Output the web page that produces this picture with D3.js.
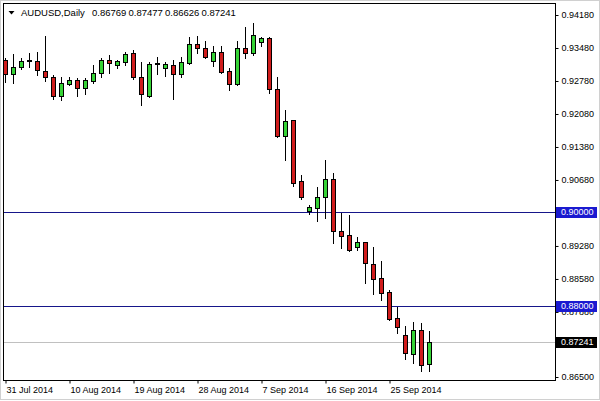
<!DOCTYPE html>
<html>
<head>
<meta charset="utf-8">
<script src="https://cdn.jsdelivr.net/npm/d3@7"></script>
<style>
    body { margin: 0; background: #fff; }
    svg { display: block; font-family: "Liberation Sans", Arial, sans-serif; }
</style>
</head>
<body>
<div class="module-graph"></div>
<script>
"use strict"

const symbol = "AUDUSD,Daily";

const dates = ["2014-07-31", "2014-08-01", "2014-08-03", "2014-08-04", "2014-08-05", "2014-08-06",
    "2014-08-07", "2014-08-08", "2014-08-10", "2014-08-11", "2014-08-12", "2014-08-13", "2014-08-14",
    "2014-08-15", "2014-08-17", "2014-08-18", "2014-08-19", "2014-08-20", "2014-08-21", "2014-08-22",
    "2014-08-24", "2014-08-25", "2014-08-26", "2014-08-27", "2014-08-28", "2014-08-29", "2014-08-31",
    "2014-09-01", "2014-09-02", "2014-09-03", "2014-09-04", "2014-09-05", "2014-09-07", "2014-09-08",
    "2014-09-09", "2014-09-10", "2014-09-11", "2014-09-12", "2014-09-14", "2014-09-15", "2014-09-16",
    "2014-09-17", "2014-09-18", "2014-09-19", "2014-09-21", "2014-09-22", "2014-09-23", "2014-09-24",
    "2014-09-25", "2014-09-26", "2014-09-28", "2014-09-29", "2014-09-30", "2014-10-01"];

const open = [0.93226, 0.92929, 0.93071, 0.93211, 0.93211, 0.92999, 0.92859, 0.92462, 0.92717, 0.92801,
    0.92625, 0.92787, 0.92944, 0.93226, 0.93120, 0.93190, 0.93368, 0.92859, 0.92468, 0.93156,
    0.93050, 0.93120, 0.92929, 0.93168, 0.93565, 0.93474, 0.93211, 0.93402, 0.92992, 0.92710,
    0.93474, 0.93368, 0.93601, 0.93686, 0.92604, 0.91620, 0.91953, 0.90659, 0.90023, 0.90093,
    0.90313, 0.90695, 0.89605, 0.89514, 0.89266, 0.89359, 0.88892, 0.88595, 0.88299, 0.87747,
    0.87393, 0.86990, 0.87499, 0.86769];
const high = [0.93268, 0.93346, 0.93274, 0.93368, 0.93402, 0.93741, 0.92907, 0.92871, 0.92871, 0.92837,
    0.92850, 0.93120, 0.93262, 0.93332, 0.93226, 0.93402, 0.93438, 0.93190, 0.93190, 0.93296,
    0.93190, 0.93226, 0.93296, 0.93707, 0.93735, 0.93629, 0.93523, 0.93523, 0.93050, 0.93629,
    0.93932, 0.94004, 0.93720, 0.93707, 0.92859, 0.92165, 0.91960, 0.90786, 0.90150, 0.90538,
    0.91105, 0.90822, 0.89987, 0.89938, 0.89478, 0.89372, 0.89253, 0.88962, 0.88347, 0.87993,
    0.87584, 0.87662, 0.87641, 0.87477];
const low = [0.92765, 0.92731, 0.93035, 0.93071, 0.92907, 0.92787, 0.92392, 0.92377, 0.92695, 0.92462,
    0.92504, 0.92744, 0.92871, 0.92956, 0.93050, 0.93120, 0.92816, 0.92271, 0.92434, 0.92929,
    0.92893, 0.92392, 0.92859, 0.93134, 0.93380, 0.93274, 0.93105, 0.92944, 0.92589, 0.92695,
    0.93274, 0.93332, 0.93529, 0.92519, 0.91599, 0.91105, 0.90560, 0.90277, 0.89959, 0.89817,
    0.89868, 0.89350, 0.89244, 0.89181, 0.89196, 0.88502, 0.88262, 0.88135, 0.87711, 0.87442,
    0.86884, 0.86805, 0.86636, 0.86626];
const close = [0.92929, 0.93071, 0.93211, 0.93215, 0.93013, 0.92859, 0.92462, 0.92731, 0.92801, 0.92625,
    0.92801, 0.92944, 0.93226, 0.93156, 0.93211, 0.93353, 0.92859, 0.92504, 0.93141, 0.93151,
    0.93141, 0.92922, 0.93177, 0.93565, 0.93474, 0.93296, 0.93389, 0.92965, 0.92710, 0.93474,
    0.93380, 0.93756, 0.93686, 0.92604, 0.91620, 0.91932, 0.90623, 0.90326, 0.90101, 0.90313,
    0.90695, 0.89605, 0.89499, 0.89196, 0.89359, 0.88914, 0.88587, 0.88290, 0.87732, 0.87569,
    0.87005, 0.87499, 0.86760, 0.87241];

// 0.89980 and 0.87180 sit under the price boxes: tick only, no label
const yTicks = [0.94180, 0.93480, 0.92780, 0.92080, 0.91380, 0.90680, 0.89980, 0.89280,
    0.88580, 0.87880, 0.87180, 0.86500];
const hiddenLabels = [0.89980, 0.87180];
const xTicks = ["2014-07-31", "2014-08-10", "2014-08-19", "2014-08-28", "2014-09-07",
    "2014-09-16", "2014-09-25"];
const levels = [0.90000, 0.88000];
const lastPrice = 0.87241;

let width = 600,
    height = 401;
const frameLeft = 3.5, frameTop = 3.5, frameRight = 555.5, frameBottom = 380.5;

const svg = d3.select("div.module-graph").append("svg")
    .attr("width", width)
    .attr("height", height);

// outer border
svg.append("rect")
    .attr("x", 0.5).attr("y", 0.5)
    .attr("width", width - 1).attr("height", height - 2)
    .attr("fill", "#fff")
    .attr("stroke", "#d0d0d0");

const x = d3.scalePoint()
    .domain(dates)
    .range([5, 5 + 8 * (dates.length - 1)]);

const y = d3.scaleLinear()
    .domain([0.86500, 0.94180])
    .range([377, 15]);

// horizontal levels
svg.selectAll("line.level")
    .data(levels)
    .enter().append("line")
    .attr("class", "level")
    .attr("x1", frameLeft).attr("x2", frameRight)
    .attr("y1", d => Math.round(y(d)) + 0.5)
    .attr("y2", d => Math.round(y(d)) + 0.5)
    .attr("stroke", "#16168a");

svg.append("line")
    .attr("x1", frameLeft).attr("x2", frameRight)
    .attr("y1", Math.round(y(lastPrice)) + 0.5)
    .attr("y2", Math.round(y(lastPrice)) + 0.5)
    .attr("stroke", "#c0c0c0");

// candles
const candles = dates.map((d, i) => ({d: d, o: open[i], h: high[i], l: low[i], c: close[i]}));

const g = svg.append("g").attr("class", "candles");

g.selectAll("line.wick")
    .data(candles)
    .enter().append("line")
    .attr("class", "wick")
    .attr("x1", d => x(d.d) + 0.5).attr("x2", d => x(d.d) + 0.5)
    .attr("y1", d => Math.round(y(d.h)))
    .attr("y2", d => Math.round(y(d.l)) + 1)
    .attr("stroke", "#000");

g.selectAll("rect.body")
    .data(candles)
    .enter().append("rect")
    .attr("class", "body")
    .attr("x", d => x(d.d) - 1.5)
    .attr("y", d => Math.round(y(Math.max(d.o, d.c))) + 0.5)
    .attr("width", 4)
    .attr("height", d => Math.max(0, Math.round(y(Math.min(d.o, d.c))) - Math.round(y(Math.max(d.o, d.c)))))
    .attr("fill", d => d.c >= d.o ? "#36d336" : "#d01c1c")
    .attr("stroke", "#000");

// frame
svg.append("rect")
    .attr("x", frameLeft).attr("y", frameTop)
    .attr("width", frameRight - frameLeft).attr("height", frameBottom - frameTop)
    .attr("fill", "none")
    .attr("stroke", "#000");

// axes
const yAxis = d3.axisRight(y)
    .tickValues(yTicks)
    .tickSize(3)
    .tickPadding(3)
    .tickFormat(d => hiddenLabels.includes(d) ? "" : d3.format(".5f")(d));

const yg = svg.append("g")
    .attr("transform", "translate(" + frameRight + ",0)")
    .call(yAxis);
yg.select(".domain").remove();
yg.selectAll("text").attr("font-size", 9).attr("fill", "#000");

const fmt = d3.timeFormat("%-d %b %Y");
const parse = d3.timeParse("%Y-%m-%d");

const xAxis = d3.axisBottom(x)
    .tickValues(xTicks)
    .tickSize(3)
    .tickFormat(d => fmt(parse(d)));

const xg = svg.append("g")
    .attr("transform", "translate(0," + frameBottom + ")")
    .call(xAxis);
xg.select(".domain").remove();
xg.selectAll("line").attr("transform", "translate(0.5,0)");
xg.selectAll("text")
    .attr("font-size", 9)
    .attr("fill", "#000")
    .attr("text-anchor", "start")
    .attr("x", 1)
    .attr("y", 12)
    .attr("dy", 0);

// price boxes on the right
const boxes = levels.map(v => ({v: v, fill: "#1a1ad0"})).concat([{v: lastPrice, fill: "#000"}]);

const bg = svg.selectAll("g.box")
    .data(boxes)
    .enter().append("g")
    .attr("class", "box")
    .attr("transform", d => "translate(556," + Math.round(y(d.v)) + ")");
bg.append("rect")
    .attr("x", 0).attr("y", -5)
    .attr("width", 41).attr("height", 11)
    .attr("fill", d => d.fill);
bg.append("text")
    .attr("x", 5).attr("y", 0.5)
    .attr("dy", "0.32em")
    .attr("font-size", 9)
    .attr("fill", "#fff")
    .text(d => d3.format(".5f")(d.v));

// header: symbol then O H L C of the last bar
svg.append("path")
    .attr("d", "M8.5,11 L14.5,11 L11.5,14.5 Z")
    .attr("fill", "#000");

const n = dates.length - 1;
const header = [symbol].concat([open[n], high[n], low[n], close[n]].map(d3.format(".5f")));
const headerX = [21, 92, 128.5, 165, 201.5];

svg.selectAll("text.header")
    .data(header)
    .enter().append("text")
    .attr("class", "header")
    .attr("x", (d, i) => headerX[i])
    .attr("y", 16)
    .attr("font-size", 9.5)
    .attr("fill", "#000")
    .text(d => d);
</script>
</body>
</html>
